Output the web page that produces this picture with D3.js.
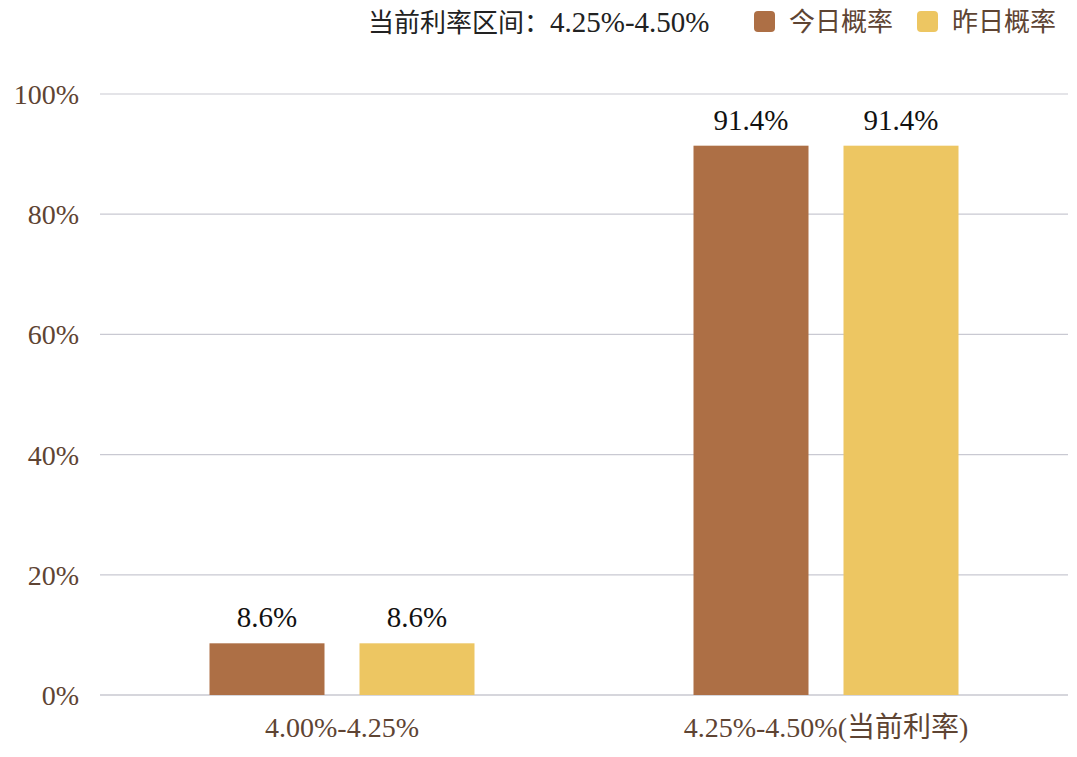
<!DOCTYPE html>
<html>
<head>
<meta charset="utf-8">
<script src="https://cdn.jsdelivr.net/npm/d3@7"></script>
<style>
  body { margin: 0; background: #fff; }
  text { font-family: "Liberation Serif", "Noto Sans CJK SC", serif; }
</style>
</head>
<body>
<div id="main"></div>
<script>
var WIDTH = 1077
var HEIGHT = 757

var categories = ["4.00%-4.25%", "4.25%-4.50%(当前利率)"]
var seriesNames = ["今日概率", "昨日概率"]
var today = [8.6, 91.4]
var yesterday = [8.6, 91.4]
var yTicks = [0, 20, 40, 60, 80, 100]
var titleLabel = "当前利率区间："
var titleRange = "4.25%-4.50%"

var colors = ["#ad6f45", "#edc662"]
var textColor = "#5e4433"

var plotLeft = 100, plotRight = 1068, plotTop = 94, plotBottom = 695

const svg = d3.select('#main').append("svg")
    .attr('width', WIDTH)
    .attr('height', HEIGHT)

var y = d3.scaleLinear().domain([0, 100]).range([plotBottom, plotTop])
var x0 = d3.scaleBand().domain(categories).range([plotLeft, plotRight]).padding(0)
var x1 = d3.scaleBand().domain(seriesNames).range([0, 265]).paddingInner(35 / 150)
var groupOffset = (x0.bandwidth() - 265) / 2

// gridlines
svg.append('g')
    .selectAll('line')
    .data(yTicks)
    .enter()
    .append('line')
    .attr('x1', plotLeft)
    .attr('x2', plotRight)
    .attr('y1', d => y(d))
    .attr('y2', d => y(d))
    .attr('stroke', d => d === 0 ? '#d6d6dc' : '#c9c9d2')
    .attr('stroke-width', d => d === 0 ? 2 : 1.2)

// y tick labels
svg.append('g')
    .selectAll('text')
    .data(yTicks)
    .enter()
    .append('text')
    .attr('x', 79)
    .attr('y', d => y(d) + 10)
    .attr('text-anchor', 'end')
    .attr('font-size', 28)
    .attr('fill', textColor)
    .text(d => d + '%')

var rows = categories.map((c, i) => ({ cat: c, vals: [today[i], yesterday[i]] }))

var groups = svg.selectAll('g.group')
    .data(rows)
    .enter()
    .append('g')
    .attr('class', 'group')
    .attr('transform', d => 'translate(' + (x0(d.cat) + groupOffset) + ',0)')

groups.selectAll('rect')
    .data(d => d.vals.map((v, j) => ({ name: seriesNames[j], v: v, j: j })))
    .enter()
    .append('rect')
    .attr('x', d => x1(d.name))
    .attr('width', x1.bandwidth())
    .attr('y', d => y(d.v))
    .attr('height', d => plotBottom - y(d.v))
    .attr('fill', d => colors[d.j])

groups.selectAll('text')
    .data(d => d.vals.map((v, j) => ({ name: seriesNames[j], v: v, j: j })))
    .enter()
    .append('text')
    .attr('x', d => x1(d.name) + x1.bandwidth() / 2)
    .attr('y', d => y(d.v) - 16)
    .attr('text-anchor', 'middle')
    .attr('font-size', 29)
    .attr('fill', '#111')
    .text(d => d.v.toFixed(1) + '%')

// x labels
svg.append('g')
    .selectAll('text')
    .data(categories)
    .enter()
    .append('text')
    .attr('x', d => x0(d) + x0.bandwidth() / 2)
    .attr('y', 737)
    .attr('text-anchor', 'middle')
    .attr('font-size', 28)
    .attr('fill', textColor)
    .text(d => d)

// title + legend
var t = svg.append('text')
    .attr('x', 368)
    .attr('y', 32)
    .attr('fill', '#222')
t.append('tspan').attr('font-size', 26).text(titleLabel)
t.append('tspan').attr('font-size', 29).text(titleRange)

var legendX = [754, 917]
var lg = svg.selectAll('g.legend')
    .data(seriesNames)
    .enter()
    .append('g')
    .attr('class', 'legend')
    .attr('transform', (d, i) => 'translate(' + legendX[i] + ',11)')

lg.append('rect')
    .attr('width', 21)
    .attr('height', 21)
    .attr('rx', 4)
    .attr('fill', (d, i) => colors[i])

lg.append('text')
    .attr('x', 35)
    .attr('y', 20)
    .attr('font-size', 26)
    .attr('fill', textColor)
    .text(d => d)
</script>
</body>
</html>
